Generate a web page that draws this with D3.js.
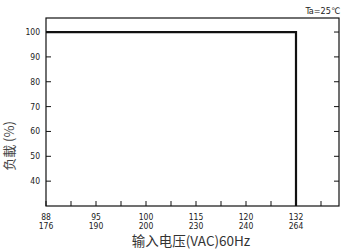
<!DOCTYPE html>
<html>
<head>
<meta charset="utf-8">
<script src="https://cdn.jsdelivr.net/npm/d3@7"></script>
<style>
body { margin: 0; background: #fff; }
text { fill: #222; }
</style>
</head>
<body>
<svg id="chart" width="343" height="252"></svg>
<script>
// data
var xLabelsTop = ["88", "95", "100", "115", "120", "132"];
var xLabelsBottom = ["176", "190", "200", "230", "240", "264"];
var xLabelIndex = [0, 2, 4, 6, 8, 10];
var xTickIndex = [0, 1, 2, 3, 4, 5, 6, 7, 8, 9, 10, 11];
var yTicks = [40, 50, 60, 70, 80, 90, 100];
var curveIndex = [0, 10, 10];
var curveLoad = [100, 100, 30];

var svg = d3.select("#chart");
var plotLeft = 46, plotRight = 339, plotTop = 18, plotBottom = 206;
var tickFont = "'Liberation Sans Narrow', 'Arial Narrow', 'DejaVu Sans Condensed', sans-serif";

var x = d3.scaleLinear().domain([0, 11.72]).range([plotLeft, plotRight]);
var y = d3.scaleLinear().domain([30, 105.65]).range([plotBottom, plotTop]);

// frame
svg.append("rect")
    .attr("x", plotLeft)
    .attr("y", plotTop)
    .attr("width", plotRight - plotLeft)
    .attr("height", plotBottom - plotTop)
    .attr("fill", "none")
    .attr("stroke", "#111")
    .attr("stroke-width", 1.2);

// y ticks left and right (inward)
svg.selectAll(".ytl")
    .data(yTicks)
    .enter()
    .append("line")
    .attr("x1", plotLeft)
    .attr("x2", plotLeft + 5)
    .attr("y1", function(d) { return y(d); })
    .attr("y2", function(d) { return y(d); })
    .attr("stroke", "#111");

svg.selectAll(".ytr")
    .data(yTicks)
    .enter()
    .append("line")
    .attr("x1", plotRight - 5)
    .attr("x2", plotRight)
    .attr("y1", function(d) { return y(d); })
    .attr("y2", function(d) { return y(d); })
    .attr("stroke", "#111");

svg.selectAll(".ylab")
    .data(yTicks)
    .enter()
    .append("text")
    .attr("x", plotLeft - 6)
    .attr("y", function(d) { return y(d) + 3; })
    .attr("text-anchor", "end")
    .style("font-family", tickFont)
    .style("font-size", "8.5px")
    .text(function(d) { return d; });

// x ticks (inward from bottom)
svg.selectAll(".xt")
    .data(xTickIndex)
    .enter()
    .append("line")
    .attr("x1", function(d) { return x(d); })
    .attr("x2", function(d) { return x(d); })
    .attr("y1", plotBottom)
    .attr("y2", plotBottom - 5)
    .attr("stroke", "#111");

svg.selectAll(".xl1")
    .data(xLabelIndex)
    .enter()
    .append("text")
    .attr("x", function(d) { return x(d); })
    .attr("y", 220)
    .attr("text-anchor", "middle")
    .style("font-family", tickFont)
    .style("font-size", "8.5px")
    .text(function(d, i) { return xLabelsTop[i]; });

svg.selectAll(".xl2")
    .data(xLabelIndex)
    .enter()
    .append("text")
    .attr("x", function(d) { return x(d); })
    .attr("y", 229)
    .attr("text-anchor", "middle")
    .style("font-family", tickFont)
    .style("font-size", "8.5px")
    .text(function(d, i) { return xLabelsBottom[i]; });

// curve
var line = d3.line()
    .x(function(d) { return x(d[0]); })
    .y(function(d) { return y(d[1]); });

svg.append("path")
    .datum(d3.zip(curveIndex, curveLoad))
    .attr("d", line)
    .attr("fill", "none")
    .attr("stroke", "#111")
    .attr("stroke-width", 2.2);

// titles
svg.append("text")
    .attr("x", 340)
    .attr("y", 14)
    .attr("text-anchor", "end")
    .style("font-family", tickFont)
    .style("font-size", "9px")
    .text("Ta=25℃");

svg.append("text")
    .attr("transform", "translate(14,146) rotate(-90)")
    .attr("text-anchor", "middle")
    .style("font-family", "'Noto Sans CJK SC', sans-serif")
    .style("font-size", "13px")
    .style("fill", "#444")
    .text("负載 (%)");

svg.append("text")
    .attr("x", 191)
    .attr("y", 246)
    .attr("text-anchor", "middle")
    .style("font-family", "'Noto Sans CJK SC', sans-serif")
    .style("font-size", "13.5px")
    .style("fill", "#333")
    .text("输入电压(VAC)60Hz");
</script>
</body>
</html>
